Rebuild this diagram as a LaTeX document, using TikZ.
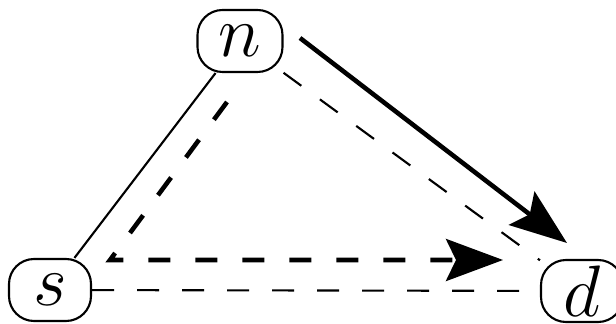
\documentclass[tikz,border=0pt]{standalone}
\usetikzlibrary{arrows.meta,calc,positioning}
\tikzset {
  >=Stealth,
  every node/.style={font=\huge},
  station/.style={draw,line width=0.6pt,rounded corners=0.25cm,
    minimum width=0.82cm,minimum height=0.62cm,inner sep=1pt},
  link/.style={line width=0.6pt},
  hop/.style={line width=1.3pt,-{Stealth[length=0.57cm,width=0.42cm,inset=0.1cm]}},
  thindash/.style={dash pattern=on 0.22cm off 0.23cm},
  thickdash/.style={dash pattern=on 0.22cm off 0.25cm},
}

\begin{document}
\begin{tikzpicture}
          \useasboundingbox (0,0) rectangle (6.16,3.24);
          \node[station,minimum width=0.85cm] (n) at (2.40,2.83) {$n$};
          \node[station] (s) at (0.50,0.34) {$s$};
          \node[station] (d) at (5.82,0.33) {$d$};
          \draw[link] (s) -- (n);
          \draw[link,thindash] (n) -- (d);
          \draw[link,thindash] (s) -- (d);
          % direct hop and relayed path
          \coordinate (directfrom) at (3.00,2.86);
          \coordinate (directto) at (5.67,0.81);
          \coordinate (relayfrom) at (2.27,2.22);
          \coordinate (relaycorner) at (1.10,0.64);
          \coordinate (relayto) at (5.03,0.64);
          \draw[hop] (directfrom) -- (directto);
          \draw[hop,thickdash] (relayfrom) -- (relaycorner) -- (relayto);
        \end{tikzpicture}
\end{document}
